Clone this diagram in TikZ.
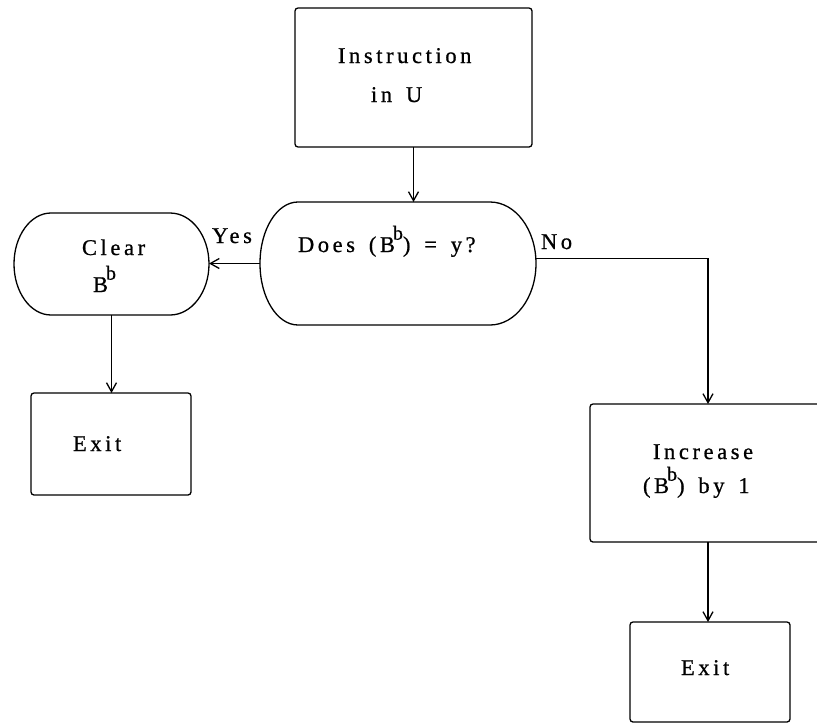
\documentclass[tikz,border=0pt]{standalone}
\usepackage{fontspec}
\newfontfamily\twfont[LetterSpace=16,WordSpace=1.5,FakeBold=0.8]{Liberation Serif}
\usetikzlibrary{arrows.meta}
\begin{document}
\begin{tikzpicture}[x=1pt,y=-1pt,
  line width=1.3pt,
  box/.style={draw, rectangle, rounded corners=3pt, inner sep=0pt, outer sep=0pt},
  ghost/.style={rectangle, inner sep=0pt, outer sep=0pt},
  txt/.style={inner sep=0pt, outer sep=0pt, anchor=base west, font=\fontsize{22.5}{27}\twfont},
  arr/.style={-{Straight Barb[length=9pt,width=10pt,line width=1.3pt]}}
]
\newcommand{\supb}{\hspace{-2pt}\raisebox{0.55em}{\fontsize{20}{20}\selectfont b}}
\useasboundingbox[fill=white] (0,0) rectangle (817,723);

% shapes
\node[box, minimum width=237pt, minimum height=139pt] (ins) at (413.5,77.5) {};
\node[ghost, minimum width=276pt, minimum height=123pt] (dec) at (398,263.5) {};
\node[ghost, minimum width=195pt, minimum height=102pt] (clr) at (111.5,264) {};
\node[box, minimum width=160pt, minimum height=102pt] (ex1) at (111,444) {};
\node[box, minimum width=236pt, minimum height=138pt] (inc) at (708,473) {};
\node[box, minimum width=160pt, minimum height=100pt] (ex2) at (710,672) {};

\draw ([xshift=38pt]dec.north west) -- ([xshift=-46pt]dec.north east)
  arc[start angle=90, end angle=-90, x radius=46pt, y radius=61.5pt]
  -- ([xshift=38pt]dec.south west)
  arc[start angle=270, end angle=90, x radius=38pt, y radius=61.5pt] -- cycle;
\draw ([xshift=37pt]clr.north west) -- ([xshift=-39pt]clr.north east)
  arc[start angle=90, end angle=-90, x radius=39pt, y radius=51pt]
  -- ([xshift=37pt]clr.south west)
  arc[start angle=270, end angle=90, x radius=37pt, y radius=51pt] -- cycle;

% texts
\node[txt] (t1) at (338,63) {Instruction};
\node[txt] (t2) at (371,102) {in U};
\node[txt] (t3) at (298,252) {Does (B\supb) = y?};
\node[txt] (t4) at (82,255) {Clear};
\node[txt] (t5) at (93,292) {B\supb};
\node[txt] (t6) at (212,243) {Yes};
\node[txt] (t7) at (541,249) {No};
\node[txt] (t8) at (73,451) {Exit};
\node[txt] (t9) at (653,459) {Increase};
\node[txt] (t10) at (643,493) {(B\supb) by 1};
\node[txt] (t11) at (681,675) {Exit};

% connectors
\draw[arr] (ins.south) -- (ins.south |- dec.north);
\draw[arr] (dec.west) -- (dec.west -| clr.east);
\draw[arr] ([yshift=5pt]dec.east) -| (inc.north);
\draw[arr] (clr.south) -- (clr.south |- ex1.north);
\draw[arr] (inc.south) -- (inc.south |- ex2.north);
\end{tikzpicture}
\end{document}
